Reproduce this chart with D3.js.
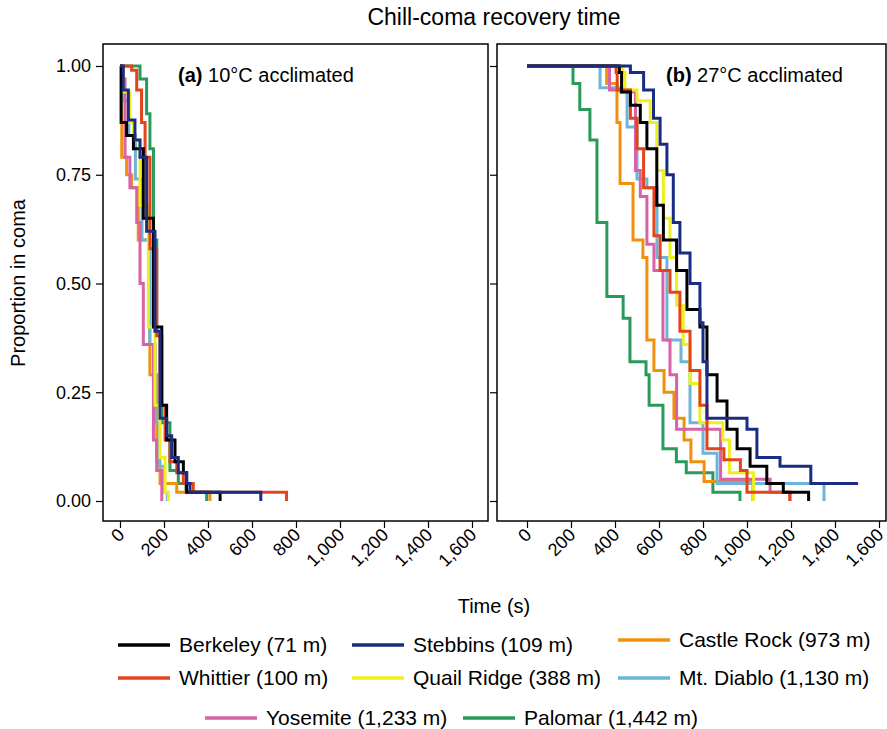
<!DOCTYPE html>
<html><head><meta charset="utf-8">
<script src="https://cdn.jsdelivr.net/npm/d3@7"></script>
<style>body{margin:0;background:#fff}text{font-family:"Liberation Sans",Arial,sans-serif}</style>
</head><body><svg id="c" width="887" height="729"></svg>
<script>
const names = ["Berkeley (71 m)","Stebbins (109 m)","Castle Rock (973 m)","Whittier (100 m)","Quail Ridge (388 m)","Mt. Diablo (1,130 m)","Yosemite (1,233 m)","Palomar (1,442 m)"];
const colors = ["#000000","#1b2c84","#f0900c","#e2441c","#eef01e","#6cb4d8","#d862a8","#2a9a5a"];
const xTicks = [0,200,400,600,800,1000,1200,1400,1600];
const yTicks = [0,0.25,0.5,0.75,1];
// [time (s), proportion in coma] step points, panel (a) 10°C
const a_berkeley = [[0,1],[5,0.87],[30,0.84],[61,0.81],[106,0.65],[152,0.40],[190,0.22],[212,0.14],[250,0.09],[288,0.065],[303,0.02],[455,0]];
const a_stebbins = [[0,1],[15,0.945],[38,0.876],[68,0.83],[91,0.79],[121,0.62],[159,0.39],[182,0.19],[212,0.15],[235,0.10],[265,0.065],[303,0.04],[318,0.02],[640,0]];
const a_castle = [[0,1],[8,0.79],[30,0.75],[53,0.72],[83,0.60],[136,0.29],[167,0.09],[182,0.04],[258,0.02],[409,0]];
const a_whittier = [[0,1],[53,0.99],[76,0.945],[98,0.87],[114,0.79],[136,0.58],[167,0.38],[182,0.22],[205,0.14],[227,0.09],[258,0.065],[288,0.04],[333,0.02],[757,0]];
const a_quail = [[0,1],[15,0.94],[45,0.87],[61,0.83],[91,0.68],[129,0.40],[159,0.22],[182,0.10],[205,0.02],[220,0]];
const a_diablo = [[0,1],[12,0.92],[40,0.84],[70,0.74],[100,0.60],[135,0.36],[160,0.18],[180,0.08],[200,0.02],[215,0]];
const a_yosemite = [[0,1],[10,0.97],[23,0.79],[45,0.72],[76,0.64],[91,0.50],[106,0.36],[152,0.14],[167,0.07],[190,0]];
const a_palomar = [[0,1],[91,0.97],[121,0.89],[136,0.81],[152,0.60],[167,0.38],[190,0.18],[227,0.07],[265,0.04],[300,0.02],[394,0]];
// panel (b) 27°C
const b_berkeley = [[0,1],[420,0.985],[430,0.94],[470,0.91],[515,0.87],[545,0.81],[590,0.68],[620,0.60],[680,0.53],[727,0.44],[786,0.40],[818,0.29],[864,0.23],[909,0.165],[955,0.12],[1014,0.08],[1090,0.04],[1165,0.02],[1280,0]];
const b_stebbins = [[0,1],[470,0.985],[530,0.945],[575,0.88],[605,0.82],[636,0.75],[665,0.64],[695,0.57],[741,0.50],[786,0.41],[800,0.32],[818,0.19],[1000,0.165],[1045,0.10],[1150,0.08],[1290,0.04],[1505,0.04]];
const b_castle = [[0,1],[362,0.96],[409,0.87],[423,0.73],[482,0.60],[527,0.56],[545,0.37],[577,0.30],[623,0.25],[668,0.19],[714,0.14],[745,0.09],[805,0.045],[1027,0]];
const b_whittier = [[0,1],[405,0.985],[410,0.945],[470,0.88],[500,0.81],[530,0.72],[577,0.61],[605,0.53],[650,0.48],[695,0.39],[741,0.30],[786,0.22],[818,0.12],[895,0.095],[970,0.07],[1000,0.02],[1195,0]];
const b_quail = [[0,1],[436,0.985],[445,0.945],[500,0.92],[560,0.87],[590,0.76],[620,0.65],[650,0.56],[680,0.45],[710,0.36],[741,0.27],[786,0.18],[890,0.14],[920,0.065],[1030,0]];
const b_diablo = [[0,1],[332,0.95],[427,0.94],[455,0.86],[500,0.74],[545,0.72],[591,0.56],[636,0.37],[700,0.32],[741,0.18],[800,0.11],[864,0.04],[1350,0]];
const b_yosemite = [[0,1],[375,0.945],[455,0.94],[493,0.76],[515,0.70],[545,0.59],[577,0.53],[618,0.37],[650,0.29],[680,0.165],[864,0.165],[880,0.05],[1105,0.02],[1195,0]];
const b_palomar = [[0,1],[209,0.96],[240,0.90],[286,0.83],[318,0.64],[363,0.47],[437,0.42],[468,0.32],[541,0.29],[555,0.22],[618,0.12],[679,0.09],[724,0.065],[845,0.02],[968,0]];

const panels = [
 {label:"(a)", text:" 10°C acclimated", x0:103, x1:488, z:120, lx:178, series:[a_berkeley,a_stebbins,a_castle,a_whittier,a_quail,a_diablo,a_yosemite,a_palomar], ylab:true},
 {label:"(b)", text:" 27°C acclimated", x0:497, x1:886, z:527, lx:666, series:[b_berkeley,b_stebbins,b_castle,b_whittier,b_quail,b_diablo,b_yosemite,b_palomar], ylab:false}
];
const svg = d3.select("#c");
const y = d3.scaleLinear().domain([0,1]).range([501,66]);
const fmtT = d3.format(",");
panels.forEach(p=>{
  const x = d3.scaleLinear().domain([0,1600]).range([p.z,p.z+352]);
  const g = svg.append("g");
  const order = [7,2,5,6,4,3,0,1];
  order.forEach(i=>{
    g.append("path").datum(p.series[i]).attr("fill","none").attr("stroke",colors[i]).attr("stroke-width",3)
     .attr("d", d3.line().x(d=>x(d[0])).y(d=>y(d[1])).curve(d3.curveStepAfter));
  });
  g.append("rect").attr("x",p.x0).attr("y",44).attr("width",p.x1-p.x0).attr("height",477).attr("fill","none").attr("stroke","#000").attr("stroke-width",1.5);
  const xa = svg.append("g").attr("transform","translate(0,521)").call(d3.axisBottom(x).tickValues(xTicks).tickSize(7).tickFormat(fmtT));
  xa.select(".domain").remove();
  xa.selectAll("line").attr("stroke-width",1.2);
  xa.selectAll("text").attr("font-size",18).attr("font-family","Liberation Sans, Arial, sans-serif").attr("text-anchor","end").attr("dy",0).attr("y",0)
    .attr("transform","translate(5,15) rotate(-45)");
  const ya = svg.append("g").attr("transform",`translate(${p.x0},0)`).call(d3.axisLeft(y).tickValues(yTicks).tickSize(7).tickFormat(p.ylab?d3.format(".2f"):""));
  ya.select(".domain").remove();
  ya.selectAll("line").attr("stroke-width",1.2);
  ya.selectAll("text").attr("font-size",18).attr("font-family","Liberation Sans, Arial, sans-serif").attr("x",-12);
  const t = svg.append("text").attr("x",p.lx).attr("y",82).attr("font-size",20);
  t.append("tspan").attr("font-weight","bold").text(p.label);
  t.append("tspan").text(p.text);
});
svg.append("text").attr("x",494).attr("y",25).attr("text-anchor","middle").attr("font-size",23).text("Chill-coma recovery time");
svg.append("text").attr("x",494).attr("y",613).attr("text-anchor","middle").attr("font-size",20).text("Time (s)");
svg.append("text").attr("transform","translate(25,283) rotate(-90)").attr("text-anchor","middle").attr("font-size",20).text("Proportion in coma");
const legPos = [[118,645],[352,645],[618,640],[118,678],[352,678],[618,678],[205,718],[463,718]];
names.forEach((n,i)=>{
  const [lx,ly]=legPos[i];
  svg.append("line").attr("x1",lx).attr("x2",lx+52).attr("y1",ly).attr("y2",ly).attr("stroke",colors[i]).attr("stroke-width",3.5);
  svg.append("text").attr("x",lx+61).attr("y",ly+7).attr("font-size",21).text(n);
});
</script></body></html>
